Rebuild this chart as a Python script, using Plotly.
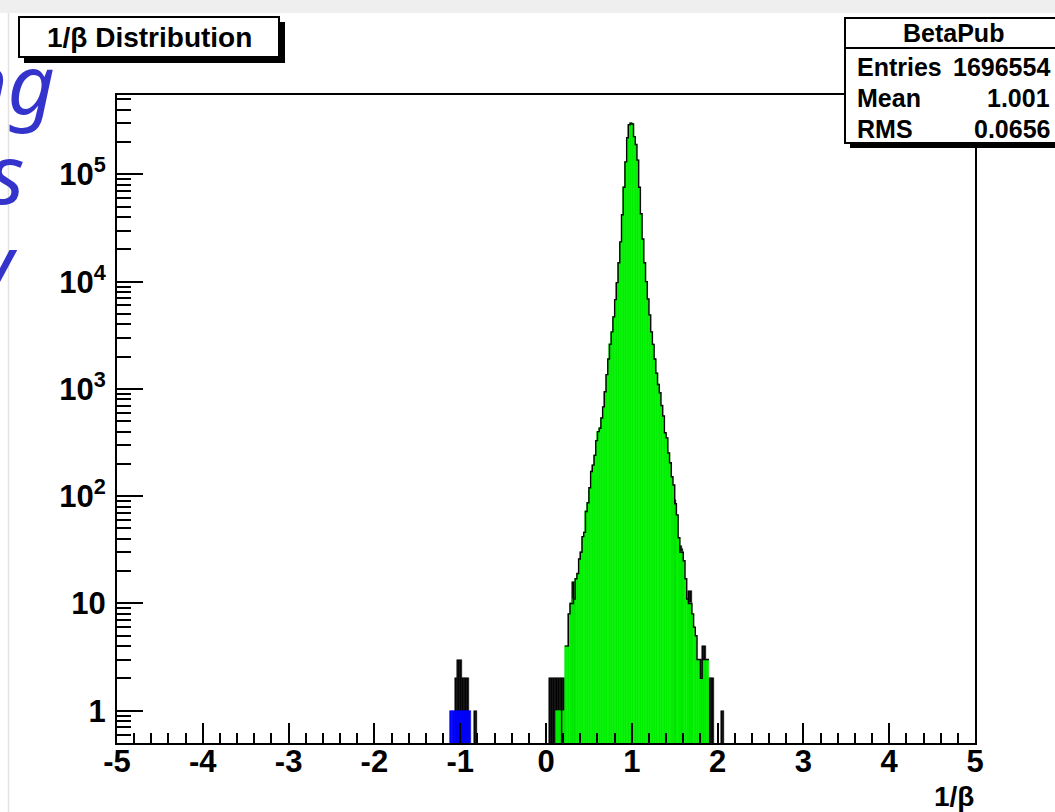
import numpy as np
import plotly.graph_objects as go

# ---------------- data ----------------
BIN_WIDTH = 0.02

# green histogram (1/beta > 0), consecutive bins starting at left edge 0.12
GREEN_START = 0.12
green_counts = [
    1, 1, 1, 0, 1, 4, 4, 8, 10, 10,            # 0.12 - 0.30
    11, 17, 19, 26, 30, 42, 46, 72, 87, 120,    # 0.32 - 0.50
    170, 195, 240, 330, 400, 430, 536, 680, 940, 1360,  # 0.52 - 0.70
    1900, 2600, 3400, 4700, 6800, 9800, 15000, 23500, 42000, 76000,  # 0.72 - 0.90
    131000, 220000, 290000, 300000, 295000, 225000, 190000, 136000, 76000, 43000,  # 0.92 - 1.10
    25000, 15000, 10000, 6900, 4900, 3400, 2600, 1900, 1400, 1100,  # 1.12 - 1.30
    920, 700, 560, 390, 350, 253, 205, 152, 127, 85,  # 1.32 - 1.50
    67, 41, 30, 30, 25, 17, 11, 10, 10, 8,      # 1.52 - 1.70
    6, 5, 3, 3, 2, 3, 3, 3, 3,                  # 1.72 - 1.88
]

# blue histogram (1/beta < 0), consecutive bins starting at left edge -1.12
BLUE_START = -1.12
blue_counts = [1, 1, 1, 1, 1, 1, 1, 1, 1, 1, 1, 1]

# black (all entries) histogram, only bins where it shows above the coloured one
black_edges = [-1.06, -1.04, -1.02, -1.00, -0.98, -0.96, -0.94, -0.92, -0.84, -0.82,
               0.04, 0.06, 0.08, 0.10, 0.12, 0.14, 0.16, 0.18, 0.20, 0.30, 0.32,
               1.48, 1.50, 1.56, 1.58, 1.66, 1.68, 1.80, 1.82, 1.84,
               1.90, 1.92, 1.94, 2.04, 2.06]
black_counts = [2, 3, 3, 3, 2, 2, 2, 2, 1, 1,
                2, 2, 2, 2, 2, 2, 2, 2, 2, 16, 16,
                92, 92, 34, 32, 13, 13, 3, 4, 4,
                2, 2, 2, 1, 1]

x_ticks = [-5, -4, -3, -2, -1, 0, 1, 2, 3, 4, 5]
y_ticks = [1, 10, 100, 1000, 10000, 100000]
y_ticktext = ["1", "10", "10<sup>2</sup>", "10<sup>3</sup>", "10<sup>4</sup>", "10<sup>5</sup>"]

stats_title = "BetaPub"
stats_rows = [("Entries", "1696554"), ("Mean", "1.001"), ("RMS", "0.0656")]

# ---------------- helpers ----------------
W, H = 1055, 812
L, R, T, B = 117, 975, 95, 743


def px(xp):
    return (xp - L) / (R - L)


def py(yp):
    return (B - yp) / (B - T)


def centers(start, counts):
    c = start + BIN_WIDTH * (np.arange(len(counts)) + 0.5)
    return np.round(c, 4)


FONT = "Liberation Sans, Arial, sans-serif"
GREEN = "#00f000"
BLUE = "#0000ff"
BLACK = "#050505"

fig = go.Figure()

# black histogram underneath
bx = np.round(np.array(black_edges) + BIN_WIDTH / 2, 4)
fig.add_trace(go.Bar(x=bx, y=black_counts, width=BIN_WIDTH,
                     marker=dict(color=BLACK, line=dict(color=BLACK, width=0.5))))

# green histogram
gx = centers(GREEN_START, green_counts)
gy = np.array(green_counts, dtype=float)
mask = gy > 0
fig.add_trace(go.Bar(x=gx[mask], y=gy[mask], width=BIN_WIDTH,
                     marker=dict(color=GREEN, line=dict(color=GREEN, width=0.6))))

# blue histogram
bbx = centers(BLUE_START, blue_counts)
fig.add_trace(go.Bar(x=bbx, y=blue_counts, width=BIN_WIDTH,
                     marker=dict(color=BLUE, line=dict(color=BLUE, width=0.6))))

# outline of the main green peak (step line)
i0 = 5  # from 0.22
edges = np.round(GREEN_START + BIN_WIDTH * np.arange(i0, len(green_counts) + 1), 4)
vals = list(gy[i0:]) + [gy[-1]]
fig.add_trace(go.Scatter(x=edges, y=vals, mode="lines", line=dict(color=BLACK, width=1.4, shape="hv"),
                         hoverinfo="skip"))

fig.update_layout(
    width=W, height=H,
    margin=dict(l=L, r=W - R, t=T, b=H - B),
    paper_bgcolor="white", plot_bgcolor="white",
    showlegend=False, barmode="overlay", bargap=0,
    font=dict(family=FONT, color="black"),
)

fig.update_xaxes(
    range=[-5, 5], showgrid=False, zeroline=False,
    showline=True, mirror=True, linecolor="black", linewidth=2,
    ticks="inside", ticklen=20, tickwidth=2, tickcolor="black",
    tickmode="array", tickvals=x_ticks, ticktext=[str(v) for v in x_ticks],
    tickfont=dict(family=FONT, size=31, color="black", weight="bold"),
    ticklabelstandoff=-10,
    minor=dict(ticks="inside", ticklen=10, tickwidth=2, tickcolor="black",
               tick0=0, dtick=0.2, showgrid=False),
)

fig.update_yaxes(
    type="log", range=[np.log10(0.5), np.log10(5.5e5)], showgrid=False, zeroline=False,
    showline=True, mirror=True, linecolor="black", linewidth=2,
    ticks="inside", ticklen=26, tickwidth=2, tickcolor="black",
    tickmode="array", tickvals=y_ticks, ticktext=y_ticktext,
    tickfont=dict(family=FONT, size=31, color="black", weight="bold"),
    ticklabelstandoff=3,
    minor=dict(ticks="inside", ticklen=14, tickwidth=2, tickcolor="black",
               dtick="D1", showgrid=False),
)

shapes = []
# light gray border of the canvas screenshot
shapes.append(dict(type="rect", xref="paper", yref="paper", x0=px(-5), x1=px(W + 5),
                   y0=py(13), y1=py(-5), fillcolor="#efefef", line=dict(width=0), layer="above"))
shapes.append(dict(type="line", xref="paper", yref="paper", x0=px(8.5), x1=px(8.5),
                   y0=py(13), y1=py(H + 5), line=dict(color="#e2e2e2", width=1.5), layer="above"))
# title box (shadow + box)
shapes.append(dict(type="rect", xref="paper", yref="paper", x0=px(24), x1=px(285),
                   y0=py(63), y1=py(22), fillcolor="black", line=dict(width=0), layer="above"))
shapes.append(dict(type="rect", xref="paper", yref="paper", x0=px(19), x1=px(279),
                   y0=py(57), y1=py(17), fillcolor="white", line=dict(color="black", width=2), layer="above"))
# stats box (shadow + box)
shapes.append(dict(type="rect", xref="paper", yref="paper", x0=px(850), x1=px(1080),
                   y0=py(148), y1=py(23), fillcolor="black", line=dict(width=0), layer="above"))
shapes.append(dict(type="rect", xref="paper", yref="paper", x0=px(845), x1=px(1075),
                   y0=py(143), y1=py(18), fillcolor="white", line=dict(color="black", width=2), layer="above"))
shapes.append(dict(type="line", xref="paper", yref="paper", x0=px(845), x1=px(1075),
                   y0=py(48), y1=py(48), line=dict(color="black", width=2), layer="above"))
fig.update_layout(shapes=shapes)

ann = []
ann.append(dict(text="<b>1/β Distribution</b>", x=px(149), y=py(38), xref="paper", yref="paper",
                showarrow=False, xanchor="center", yanchor="middle",
                font=dict(family=FONT, size=28, color="black")))
ann.append(dict(text="<b>" + stats_title + "</b>", x=px(953), y=py(33), xref="paper", yref="paper",
                showarrow=False, xanchor="center", yanchor="middle",
                font=dict(family=FONT, size=25, color="black")))
row_y = [67, 98, 129]
for (lab, val), yy in zip(stats_rows, row_y):
    ann.append(dict(text="<b>" + lab + "</b>", x=px(855), y=py(yy), xref="paper", yref="paper",
                    showarrow=False, xanchor="left", yanchor="middle",
                    font=dict(family=FONT, size=25, color="black")))
    ann.append(dict(text="<b>" + val + "</b>", x=px(1052), y=py(yy), xref="paper", yref="paper",
                    showarrow=False, xanchor="right", yanchor="middle",
                    font=dict(family=FONT, size=25, color="black")))
# x axis title
ann.append(dict(text="<b>1/β</b>", x=px(976), y=py(796), xref="paper", yref="paper",
                showarrow=False, xanchor="right", yanchor="middle",
                font=dict(family=FONT, size=28, color="black")))
# fragments of slide text behind the canvas (cut at the left edge)
SLIDE_BLUE = "#3434cc"
for txt, xr, yc in [("ng", 57, 82), ("s", 26, 172), ("y", 20, 262)]:
    ann.append(dict(text=txt, x=px(xr), y=py(yc), xref="paper", yref="paper",
                    showarrow=False, xanchor="right", yanchor="middle",
                    font=dict(family="Noto Sans, sans-serif", size=82, color=SLIDE_BLUE, style="italic")))
fig.update_layout(annotations=ann)

fig.write_html("out.html")
